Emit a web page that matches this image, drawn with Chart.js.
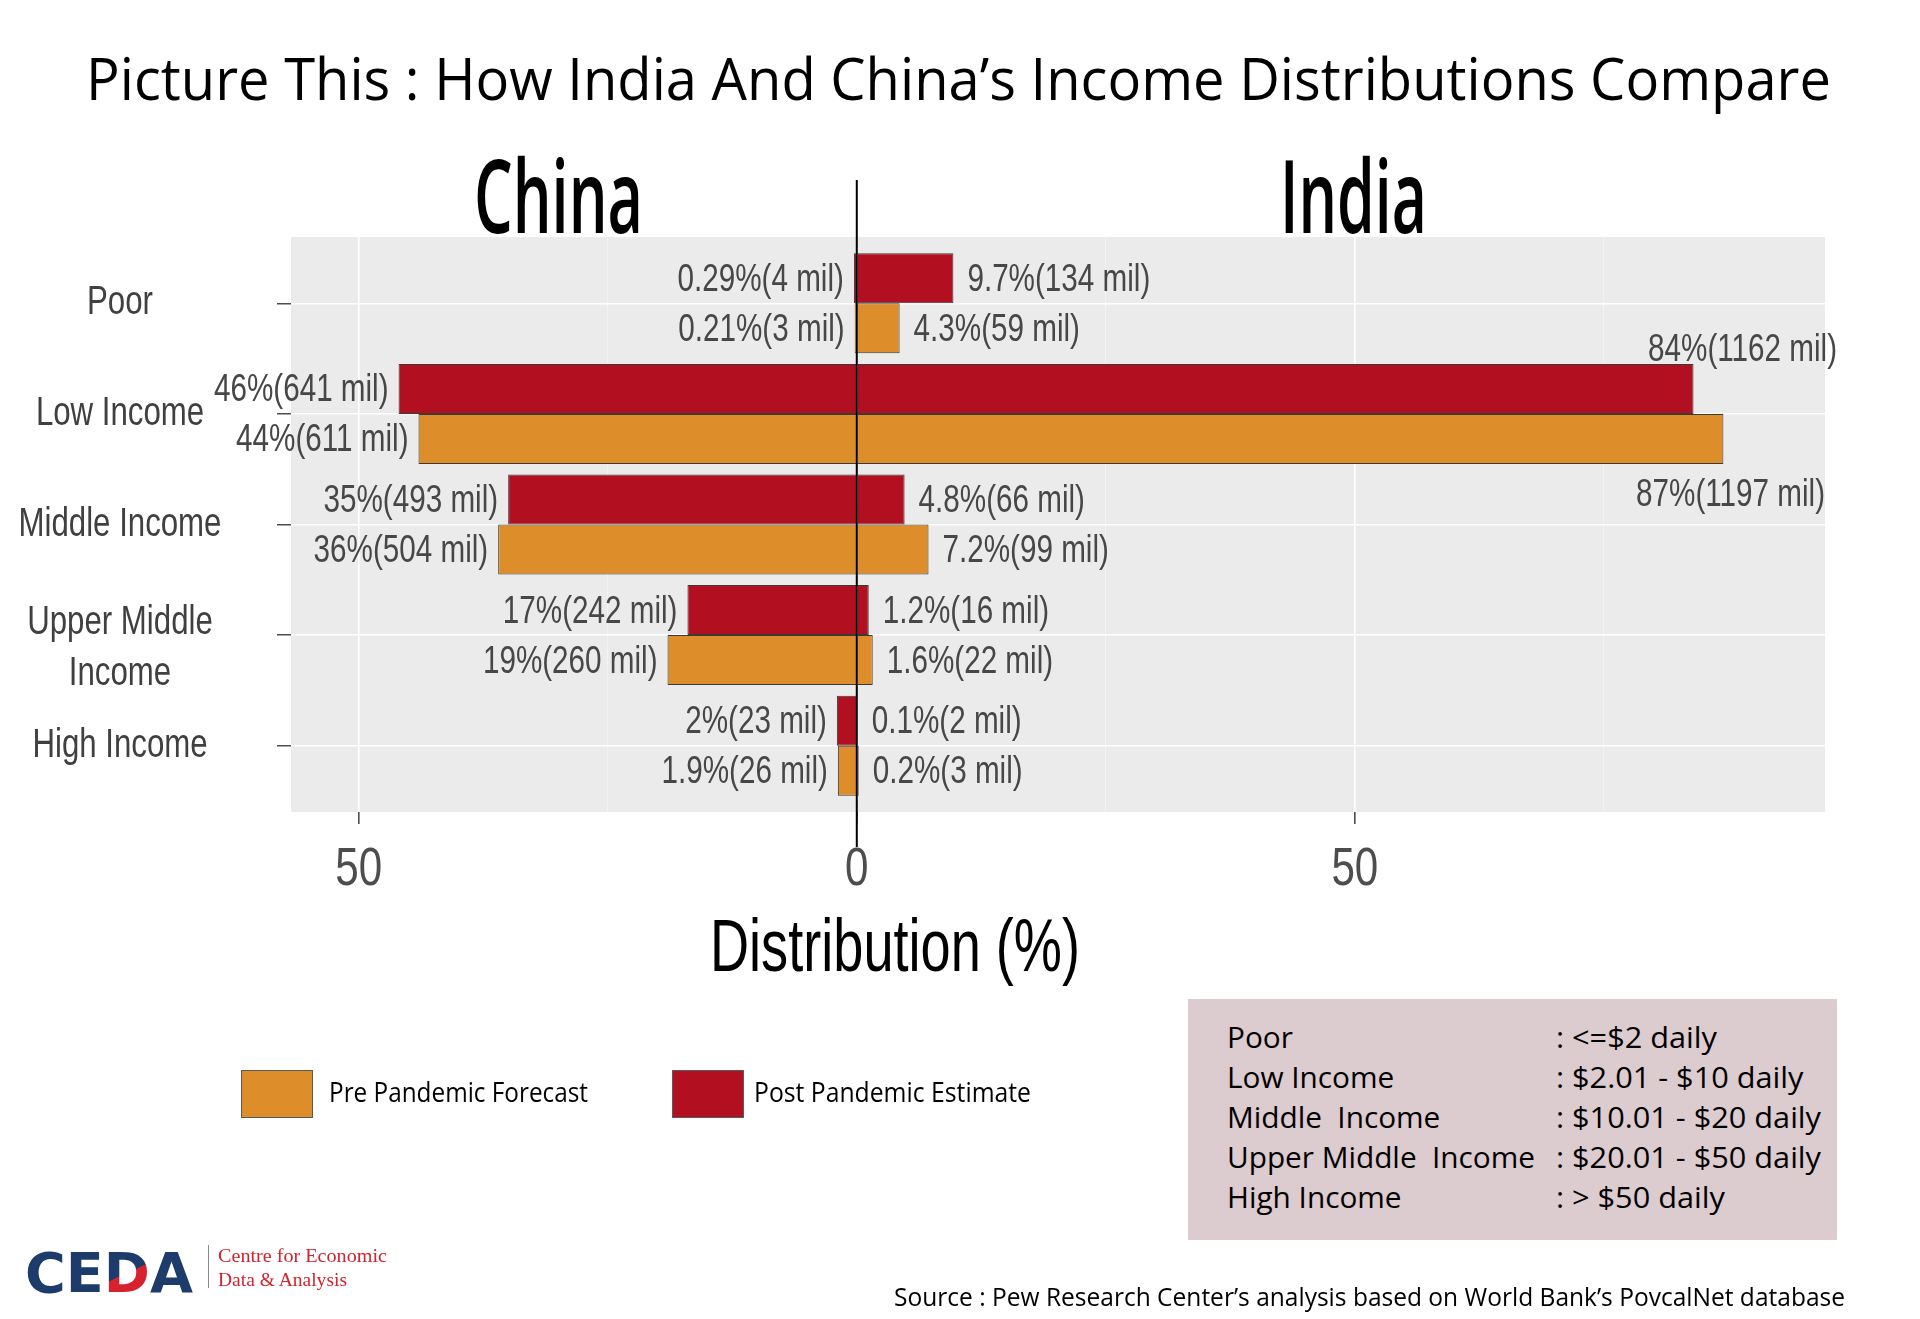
<!DOCTYPE html>
<html>
<head>
<meta charset="utf-8">
<title>Picture This : How India And China’s Income Distributions Compare</title>
<script src="https://cdn.jsdelivr.net/npm/chart.js"></script>
<style>
    html, body { margin: 0; padding: 0; background: #fff; }
    #wrap { position: relative; width: 1920px; height: 1319px; overflow: hidden; background: #fff; }
    #graph { position: absolute; left: 0; top: 0; }
    .t { position: absolute; white-space: pre; line-height: 1; transform-origin: 0 0; color: #000; }
    .os { font-family: "Open Sans", "Noto Sans", sans-serif; }
    .nr { font-family: "Liberation Sans", Arial, sans-serif; }
    .swatch { position: absolute; width: 70px; height: 46px; border: 1px solid #5a5a5a; }
    #defBox { position: absolute; left: 1188px; top: 999px; width: 649px; height: 241px; background: #DCCBCF; }
    #ceda .dd {
        background: linear-gradient(155deg, #1D3C6C 50%, #D6212F 50%);
        -webkit-background-clip: text; background-clip: text; color: transparent;
    }
</style>
</head>
<body>
<div id="wrap">
    <canvas id="graph" width="1920" height="1319"></canvas>

    <div class="t os" data-w="1745" style="left:86px;top:48px;font-size:59px;">Picture This : How India And China’s Income Distributions Compare</div>
    <div class="t os" data-w="169" style="left:474px;top:143px;font-size:102px;font-weight:600;">China</div>
    <div class="t os" data-w="147" style="left:1280px;top:143px;font-size:102px;font-weight:600;">India</div>
    <div class="t nr" data-w="370" style="left:710px;top:908px;font-size:75px;">Distribution (%)</div>

    <div class="swatch" style="left:241px;top:1070px;background:#DE8D2B;"></div>
    <div class="t os" data-w="259" style="left:329px;top:1078px;font-size:27px;">Pre Pandemic Forecast</div>
    <div class="swatch" style="left:672px;top:1070px;background:#B21021;"></div>
    <div class="t os" data-w="277" style="left:754px;top:1078px;font-size:27px;">Post Pandemic Estimate</div>

    <div id="defBox"></div>

    <div class="t os" data-w="951" style="left:894px;top:1284px;font-size:25px;">Source : Pew Research Center’s analysis based on World Bank’s PovcalNet database</div>

    <div class="t" id="ceda" data-w="168" style="left:25px;top:1241px;font:bold 55px 'DejaVu Sans', sans-serif;color:#1D3C6C;">CE<span class="dd">D</span>A</div>
    <div style="position:absolute;left:208px;top:1245px;width:1px;height:43px;background:#8a8a8a;"></div>
    <div class="t" data-w="169" style="left:218px;top:1245px;font:19px 'Liberation Serif', serif;color:#D2232E;">Centre for Economic</div>
    <div class="t" data-w="129" style="left:218px;top:1269px;font:19px 'Liberation Serif', serif;color:#D2232E;">Data &amp; Analysis</div>
</div>

<script>
// ---- data ----
const categories = ["Poor", "Low Income", "Middle Income", ["Upper Middle", "Income"], "High Income"];

const chinaPre = [0.21, 44, 36, 19, 1.9];
const chinaPreMil = [3, 611, 504, 260, 26];
const chinaPost = [0.29, 46, 35, 17, 2];
const chinaPostMil = [4, 641, 493, 242, 23];

const indiaPre = [4.3, 87, 7.2, 1.6, 0.2];
const indiaPreMil = [59, 1197, 99, 22, 3];
const indiaPost = [9.7, 84, 4.8, 1.2, 0.1];
const indiaPostMil = [134, 1162, 66, 16, 2];

const xTicks = [-50, -25, 0, 25, 50, 75];

const defLabels = ["Poor", "Low Income", "Middle  Income", "Upper Middle  Income", "High Income"];
const defRanges = [": <=$2 daily", ": $2.01 - $10 daily", ": $10.01 - $20 daily", ": $20.01 - $50 daily", ": > $50 daily"];

const ORANGE = "#DE8D2B";
const RED = "#B21021";
const SANS = "'Liberation Sans', Arial, sans-serif";
const SQUEEZE = 0.78;   // the picture uses a condensed face

// ---- definitions box ----
const wrap = document.getElementById("wrap");
const defLeft = [], defRight = [];
defLabels.forEach((lab, i) => {
    [[lab, 1227, defLeft], [defRanges[i], 1556, defRight]].forEach(([txt, left, list]) => {
        const d = document.createElement("div");
        d.className = "t os";
        d.textContent = txt;
        d.style.left = left + "px";
        d.style.top = (1022 + 40 * i) + "px";
        d.style.fontSize = "30px";
        wrap.appendChild(d);
        list.push(d);
    });
});

// squeeze text to the widths in the picture
document.querySelectorAll("[data-w]").forEach(el => {
    const w = el.getBoundingClientRect().width;
    el.style.transform = `scaleX(${el.dataset.w / w})`;
});
const leftScale = 308 / defLeft[3].getBoundingClientRect().width;
defLeft.forEach(el => el.style.transform = `scaleX(${leftScale})`);
const rightScale = 265 / defRight[2].getBoundingClientRect().width;
defRight.forEach(el => el.style.transform = `scaleX(${rightScale})`);

// condensed text helper for the canvas
function narrowText(ctx, text, x, y, align) {
    ctx.save();
    ctx.translate(x, y);
    ctx.scale(SQUEEZE, 1);
    ctx.textAlign = align;
    ctx.fillText(text, 0, 0);
    ctx.restore();
}

// ---- plugins ----
const panelBg = {
    id: "panelBg",
    beforeDraw(chart) {
        const { ctx, chartArea: a } = chart;
        ctx.save();
        ctx.fillStyle = "#EBEBEB";
        ctx.fillRect(a.left, a.top, a.right - a.left, a.bottom - a.top);
        ctx.restore();
    }
};

// tick labels of both axes, in the condensed look of the picture
const axisLabels = {
    id: "axisLabels",
    afterDraw(chart) {
        const { ctx } = chart;
        const xs = chart.scales.x, ys = chart.scales.y;
        ctx.save();
        ctx.textBaseline = "middle";

        ctx.fillStyle = "#4D4D4D";
        ctx.font = `54px ${SANS}`;
        xs.ticks.forEach((t, i) => {
            if (t.value % 50 !== 0) return;
            narrowText(ctx, String(Math.abs(t.value)), xs.getPixelForTick(i), xs.top + 58, "center");
        });

        ctx.fillStyle = "#404040";
        ctx.font = `40px ${SANS}`;
        ys.ticks.forEach((t, i) => {
            const lab = categories[t.value];
            const lines = Array.isArray(lab) ? lab : [lab];
            const yc = ys.getPixelForTick(i) + (lines.length > 1 ? 13 : 0);
            lines.forEach((ln, j) => {
                narrowText(ctx, ln, 120, yc + (j - (lines.length - 1) / 2) * 51, "center");
            });
        });
        ctx.restore();
    }
};

const barLabels = {
    id: "barLabels",
    afterDatasetsDraw(chart) {
        const { ctx, chartArea: a } = chart;
        const x0 = chart.scales.x.getPixelForValue(0);

        // zero line
        ctx.save();
        ctx.strokeStyle = "#000";
        ctx.lineWidth = 2;
        ctx.beginPath();
        ctx.moveTo(x0, a.top - 57);
        ctx.lineTo(x0, a.bottom + 35);
        ctx.stroke();

        ctx.font = `38px ${SANS}`;
        ctx.fillStyle = "#474747";
        ctx.textBaseline = "middle";
        chart.data.datasets.forEach((ds, di) => {
            chart.getDatasetMeta(di).data.forEach((bar, i) => {
                const text = `${ds.pct[i]}%(${ds.mil[i]} mil)`;
                const w = ctx.measureText(text).width * SQUEEZE;
                if (ds.side === "china") {
                    narrowText(ctx, text, bar.x - 10, bar.y + 2, "right");
                } else if (bar.x + 14 + w <= a.right) {
                    narrowText(ctx, text, bar.x + 14, bar.y + 2, "left");
                } else if (ds.stack === "post") {
                    narrowText(ctx, text, a.right + 12, bar.y - bar.height / 2 - 13, "right");
                } else {
                    narrowText(ctx, text, a.right, bar.y + bar.height / 2 + 32, "right");
                }
            });
        });
        ctx.restore();
    }
};

// ---- chart ----
function barSet(label, stack, side, values, mil, color) {
    return {
        label, stack, side,
        pct: values,
        mil: mil,
        data: values.map((v, i) => ({ y: i, x: side === "china" ? -v : v })),
        backgroundColor: color,
        borderColor: "#3a3a3a",
        borderWidth: 1,
        categoryPercentage: 0.904,
        barPercentage: 1
    };
}

const isMajor = c => c.tick && c.tick.value % 50 === 0;

new Chart(document.getElementById("graph"), {
    type: "bar",
    data: {
        datasets: [
            barSet("Post Pandemic Estimate", "post", "china", chinaPost, chinaPostMil, RED),
            barSet("Post Pandemic Estimate", "post", "india", indiaPost, indiaPostMil, RED),
            barSet("Pre Pandemic Forecast", "pre", "china", chinaPre, chinaPreMil, ORANGE),
            barSet("Pre Pandemic Forecast", "pre", "india", indiaPre, indiaPreMil, ORANGE)
        ]
    },
    options: {
        indexAxis: "y",
        responsive: false,
        devicePixelRatio: 1,
        animation: false,
        layout: { padding: { left: 0, right: 95, top: 237, bottom: 397 } },
        plugins: { legend: { display: false }, tooltip: { enabled: false } },
        scales: {
            x: {
                type: "linear",
                min: -56.8,
                max: 97.2,
                stacked: true,
                afterBuildTicks: s => { s.ticks = xTicks.map(v => ({ value: v })); },
                afterFit: s => { s.height = 110; },
                border: { display: false },
                grid: {
                    color: c => isMajor(c) ? "#FFFFFF" : "#F5F5F5",
                    lineWidth: c => isMajor(c) ? 1.6 : 0.8,
                    tickColor: c => isMajor(c) ? "#4D4D4D" : "rgba(0,0,0,0)",
                    tickLength: 12
                },
                ticks: { display: false }
            },
            y: {
                type: "linear",
                reverse: true,
                min: -0.6,
                max: 4.6,
                offset: false,
                afterBuildTicks: s => { s.ticks = categories.map((c, i) => ({ value: i })); },
                afterFit: s => { s.width = 291; },
                border: { display: false },
                grid: {
                    offset: false,
                    color: "#FFFFFF",
                    lineWidth: 1.5,
                    tickColor: "#4D4D4D",
                    tickLength: 14
                },
                ticks: { display: false }
            }
        }
    },
    plugins: [panelBg, barLabels, axisLabels]
});
</script>
</body>
</html>
